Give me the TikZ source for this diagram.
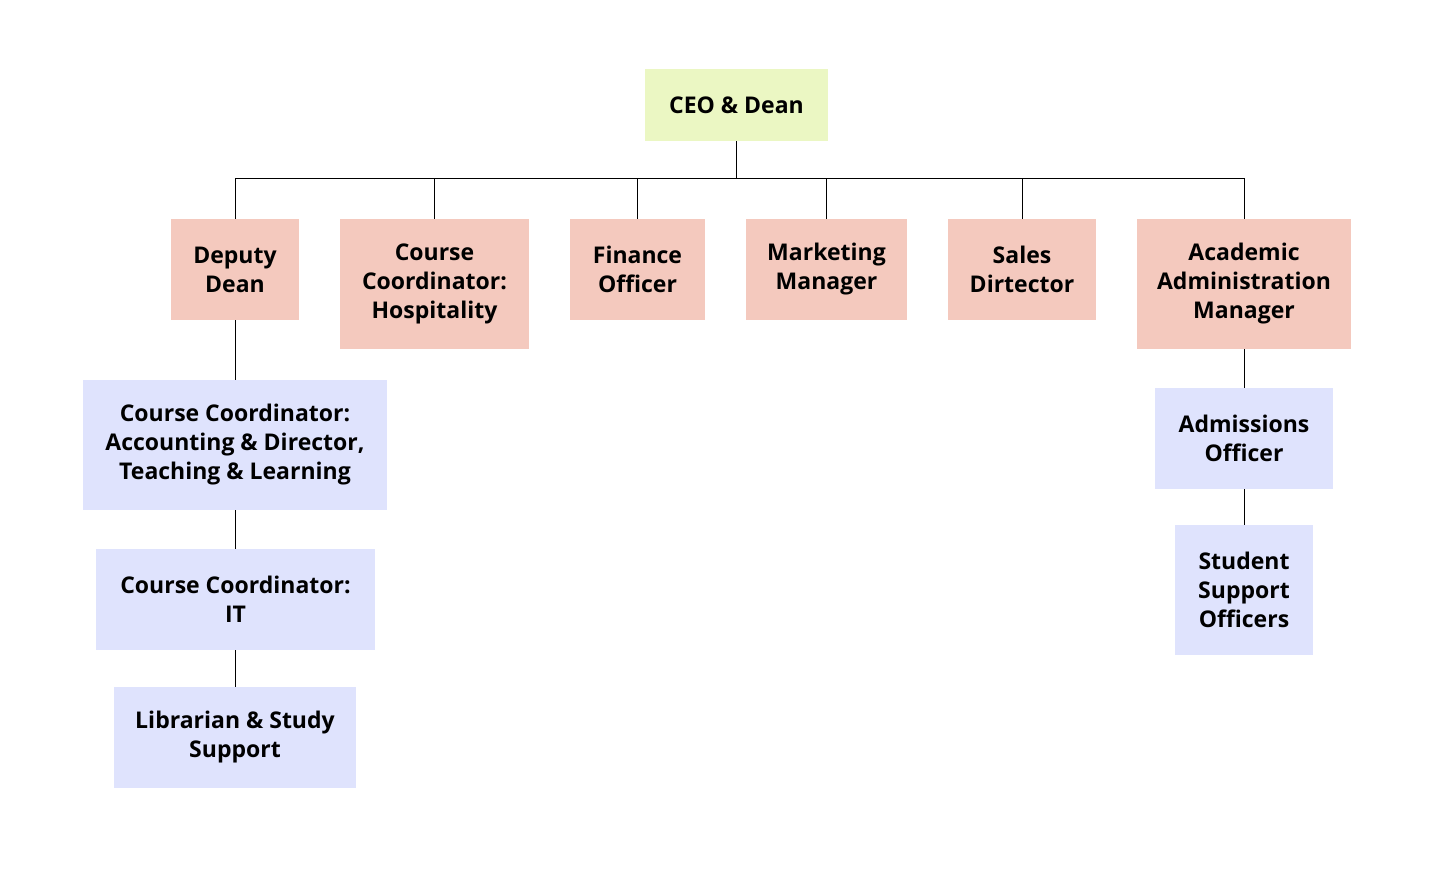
\documentclass[tikz,border=0pt]{standalone}
\usepackage{fontspec}
\setmainfont{Open Sans}
\usepackage{tikz}
\usetikzlibrary{positioning}
\definecolor{topgreen}{HTML}{EBF7C3}
\definecolor{midpink}{HTML}{F4C9BE}
\definecolor{lowblue}{HTML}{DFE3FD}

\begin{document}
\begin{tikzpicture}[x=1pt,y=1pt]
\tikzstyle{every node}+=[font=\fontsize{23}{29}\selectfont\bfseries,align=center,inner sep=0pt]
\tikzstyle{ceobox}=[fill=topgreen]
\tikzstyle{headbox}=[fill=midpink]
\tikzstyle{staffbox}=[fill=lowblue]
\tikzstyle{link}=[black,line width=1pt]
\useasboundingbox (0,0) rectangle (1435,-885);
\node [ceobox,minimum width=183,minimum height=72] (ceo) at (736.5,-105) {CEO \& Dean};
\node [headbox,minimum width=128,minimum height=101] (deputy) at (235,-269.5) {Deputy\\Dean};
\node [headbox,minimum width=189,minimum height=130] (hosp) at (434.5,-284) {Course\\Coordinator:\\Hospitality};
\node [headbox,minimum width=135,minimum height=101] (finance) at (637.5,-269.5) {Finance\\Officer};
\node [headbox,minimum width=161,minimum height=101] (marketing) at (826.5,-269.5) {Marketing\\Manager};
\node [headbox,minimum width=148,minimum height=101] (sales) at (1022,-269.5) {Sales\\Dirtector};
\node [headbox,minimum width=214,minimum height=130] (academic) at (1244,-284) {Academic\\Administration\\Manager};
\node [staffbox,minimum width=304,minimum height=130] (accounting) at (235,-445) {Course Coordinator:\\Accounting \& Director,\\Teaching \& Learning};
\node [staffbox,minimum width=279,minimum height=101] (it) at (235.5,-599.5) {Course Coordinator:\\IT};
\node [staffbox,minimum width=242,minimum height=101] (library) at (235,-737.5) {Librarian \& Study\\Support};
\node [staffbox,minimum width=178,minimum height=101] (admissions) at (1244,-438.5) {Admissions\\Officer};
\node [staffbox,minimum width=138,minimum height=130] (support) at (1244,-590) {Student\\Support\\Officers};
\coordinate (bus) at (736.5,-179);
\draw [link] (ceo.south) -- (bus);
\draw [link] (bus) -| (deputy.north);
\draw [link] (bus) -| (hosp.north);
\draw [link] (bus) -| (finance.north);
\draw [link] (bus) -| (marketing.north);
\draw [link] (bus) -| (sales.north);
\draw [link] (bus) -| (academic.north);
\draw [link] (deputy.south) -- (deputy.south |- accounting.north);
\draw [link] (accounting.south) -- (accounting.south |- it.north);
\draw [link] (it.south -| library.north) -- (library.north);
\draw [link] (academic.south) -- (admissions.north);
\draw [link] (admissions.south) -- (support.north);
\end{tikzpicture}
\end{document}
